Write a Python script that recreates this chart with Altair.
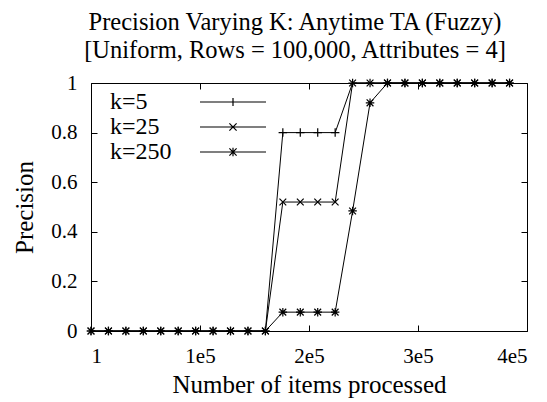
import altair as alt
import pandas as pd

# ---- data ----
items = [1, 16000, 32000, 48000, 64000, 80000, 96000, 112000, 128000, 144000,
         160000, 176000, 192000, 208000, 224000, 240000, 256000, 272000,
         288000, 304000, 320000, 336000, 352000, 368000, 384000]
series_names = ["k=5", "k=25", "k=250"]
prec_k5 = [0, 0, 0, 0, 0, 0, 0, 0, 0, 0, 0,
           0.8, 0.8, 0.8, 0.8,
           1, 1, 1, 1, 1, 1, 1, 1, 1, 1]
prec_k25 = [0, 0, 0, 0, 0, 0, 0, 0, 0, 0, 0,
            0.52, 0.52, 0.52, 0.52,
            1, 1, 1, 1, 1, 1, 1, 1, 1, 1]
prec_k250 = [0, 0, 0, 0, 0, 0, 0, 0, 0, 0, 0,
             0.076, 0.076, 0.076, 0.076,
             0.484, 0.92,
             1, 1, 1, 1, 1, 1, 1, 1]
x_tick_values = [1, 100000, 200000, 300000, 400000]
x_tick_labels = ["1", "1e5", "2e5", "3e5", "4e5"]
y_tick_values = [0, 0.2, 0.4, 0.6, 0.8, 1]

title_lines = ["Precision Varying K: Anytime TA (Fuzzy)",
               "[Uniform, Rows = 100,000, Attributes = 4]"]

# ---- styles ----
FONT = "Liberation Serif, Times New Roman, Times, DejaVu Serif, serif"
W, H = 436, 248
TICK = 6

point_paths = [
    "M-1,0L1,0M0,-1L0,1",
    "M-0.8,-0.8L0.8,0.8M-0.8,0.8L0.8,-0.8",
    "M-1,0L1,0M0,-1L0,1M-0.8,-0.8L0.8,0.8M-0.8,0.8L0.8,-0.8",
]
# legend sample: line drawn to the right of the label (unit = 6 px)
legend_paths = [
    "M17,0L28,0M22.5,-0.67L22.5,0.67",
    "M17,0L28,0M21.9,-0.6L23.1,0.6M21.9,0.6L23.1,-0.6",
    "M17,0L28,0M22.5,-0.7L22.5,0.7M21.9,-0.6L23.1,0.6M21.9,0.6L23.1,-0.6",
]

rows = []
for name, vals in zip(series_names, [prec_k5, prec_k25, prec_k250]):
    for x, v in zip(items, vals):
        rows.append({"items": x, "precision": v, "series": name})
df = pd.DataFrame(rows)

label_expr = " : ".join(
    f"datum.value == {v} ? '{t}'" for v, t in zip(x_tick_values, x_tick_labels)
) + " : ''"

x_enc = alt.X(
    "items:Q",
    scale=alt.Scale(domain=[1, 400000], nice=False, zero=False),
    axis=alt.Axis(
        values=x_tick_values, labelExpr=label_expr,
        title="Number of items processed",
        grid=True, gridColor="black", gridWidth=1, gridOpacity=1,
        gridDash=[TICK, H - 2 * TICK, TICK, 2000],
        ticks=False, domain=False,
        labelFont=FONT, labelFontSize=21, labelColor="black", labelPadding=14,
        titleFont=FONT, titleFontSize=25, titleFontWeight="normal",
        titleColor="black", titlePadding=6,
    ),
)
y_enc = alt.Y(
    "precision:Q",
    scale=alt.Scale(domain=[0, 1], nice=False),
    axis=alt.Axis(
        values=y_tick_values, format="~g", title="Precision",
        grid=True, gridColor="black", gridWidth=1, gridOpacity=1,
        gridDash=[TICK, W - 2 * TICK, TICK, 2000],
        ticks=False, domain=False,
        labelFont=FONT, labelFontSize=21, labelColor="black", labelPadding=14,
        titleFont=FONT, titleFontSize=25, titleFontWeight="normal",
        titleColor="black", titlePadding=13,
    ),
)

base = alt.Chart(df)

lines = base.mark_line(color="black", strokeWidth=1).encode(
    x=x_enc, y=y_enc, detail="series:N"
)

points = base.mark_point(filled=False, color="black", strokeWidth=1.2, size=72, opacity=1).encode(
    x=x_enc, y=y_enc,
    shape=alt.Shape("series:N",
                    scale=alt.Scale(domain=series_names, range=point_paths),
                    legend=None),
)

legend_layer = base.mark_point(filled=False, color="black", opacity=0).encode(
    x=x_enc, y=y_enc,
    shape=alt.Shape(
        "series:N",
        scale=alt.Scale(domain=series_names, range=legend_paths),
        legend=alt.Legend(
            orient="none", legendX=-5, legendY=7, title=None, padding=0,
            labelFont=FONT, labelFontSize=24, labelColor="black",
            labelOffset=0, symbolOffset=0, symbolSize=144,
            symbolStrokeWidth=1.2, symbolStrokeColor="black",
            symbolFillColor="transparent", symbolOpacity=1, rowPadding=1,
        ),
    ),
)

chart = (
    alt.layer(lines, points, legend_layer)
    .resolve_scale(shape="independent")
    .resolve_legend(shape="independent")
    .properties(
        width=W, height=H,
        autosize=alt.AutoSizeParams(type="none"),
        padding={"left": 91, "top": 83, "right": 20, "bottom": 71},
        background="white",
        title=alt.TitleParams(
            text=title_lines, font=FONT, fontSize=24.5, fontWeight="normal",
            color="black", anchor="middle", frame="group", dx=-14, dy=36,
            offset=21, lineHeight=28, baseline="bottom",
        ),
    )
    .configure_view(stroke="black", strokeWidth=1)
)

chart.save("out.html", embed_options={"renderer": "svg", "actions": False})
